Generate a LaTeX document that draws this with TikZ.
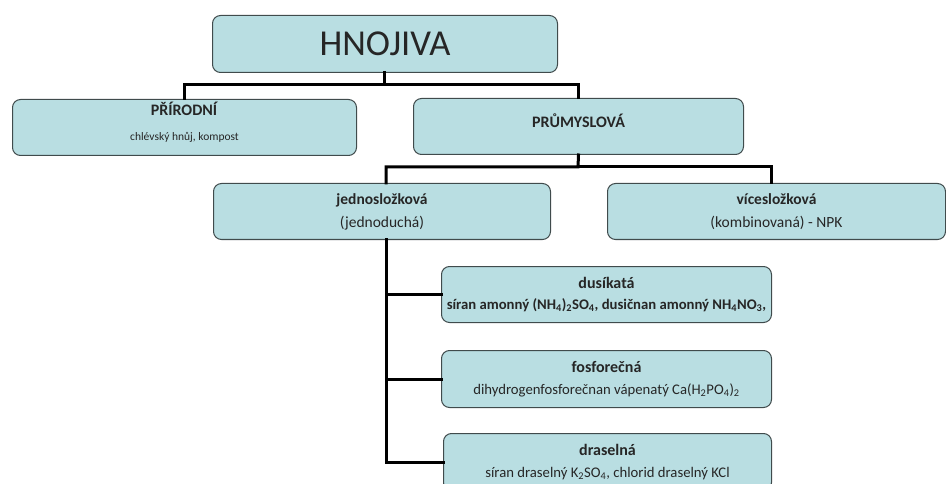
\documentclass[tikz,border=0pt]{standalone}
\usepackage{fontspec}
\setmainfont{Carlito}
\definecolor{boxfill}{HTML}{B9DEE2}
\definecolor{boxdraw}{HTML}{404B4C}
\newcommand{\ttl}[1]{\textbf{\fontsize{16}{21}\selectfont #1}}
\tikzset{
  box/.style={draw=boxdraw, line width=1pt, fill=boxfill, rounded corners=8pt,
    anchor=north west, inner sep=0pt, align=center, text=black!85},
  big/.style={font=\fontsize{15.5}{23}\selectfont},
  mid/.style={font=\fontsize{14.7}{22}\selectfont},
  conn/.style={draw=black, line width=3pt, line cap=rect}
}
\begin{document}
\begin{tikzpicture}[x=1pt,y=-1pt]
\useasboundingbox (0,0) rectangle (946,484);
\clip (0,0) rectangle (946,484);
\node[box, minimum width=345pt, minimum height=57pt, font=\fontsize{36.5}{44}\selectfont] (root) at (212,15)
  {HNOJIVA};
\node[box, minimum width=344pt, minimum height=56pt, font=\fontsize{11.5}{25}\selectfont] (prir) at (12,99)
  {\textbf{\fontsize{16}{18}\selectfont PŘÍRODNÍ}\\chlévský hnůj, kompost\\[-12pt]};
\node[box, minimum width=330pt, minimum height=56pt, font=\fontsize{16}{18}\selectfont\bfseries] (prum) at (413,98)
  {PRŮMYSLOVÁ\\[-6pt]};
\node[box, big, minimum width=337pt, minimum height=56pt] (jedno) at (213,183)
  {\textbf{jednosložková}\\(jednoduchá)};
\node[box, big, minimum width=338pt, minimum height=56pt] (vice) at (607,183)
  {\textbf{vícesložková}\\(kombinovaná) - NPK};
\node[box, minimum width=330pt, minimum height=56pt, font={\fontsize{14.7}{21}\selectfont\bfseries}] (dus) at (441,266)
  {\ttl{dusíkatá}\\síran amonný (NH\textsubscript{4})\textsubscript{2}SO\textsubscript{4}, dusičnan amonný NH\textsubscript{4}NO\textsubscript{3},};
\node[box, mid, minimum width=330pt, minimum height=57pt] (fos) at (441,350)
  {\ttl{fosforečná}\\dihydrogenfosforečnan vápenatý Ca(H\textsubscript{2}PO\textsubscript{4})\textsubscript{2}};
\node[box, mid, minimum width=328pt, minimum height=57pt] (dras) at (443,433)
  {\ttl{draselná}\\síran draselný K\textsubscript{2}SO\textsubscript{4}, chlorid draselný KCl};
% connectors
\coordinate (b1) at (384,85);
\coordinate (b2) at (578,167);
\draw[conn] (root.south -| b1) -- (b1) -| (prir.north);
\draw[conn] (b1) -| (prum.north);
\draw[conn] (prum.south) -- (b2) -| ([xshift=4pt]jedno.north);
\draw[conn] (b2) -| ([xshift=-5pt]vice.north);
\coordinate (vt) at ([xshift=4pt]jedno.south);
\draw[conn] (vt) |- (dras.west);
\draw[conn] (vt |- dus.west) -- (dus.west);
\draw[conn] (vt |- fos.west) -- (fos.west);
\end{tikzpicture}
\end{document}
